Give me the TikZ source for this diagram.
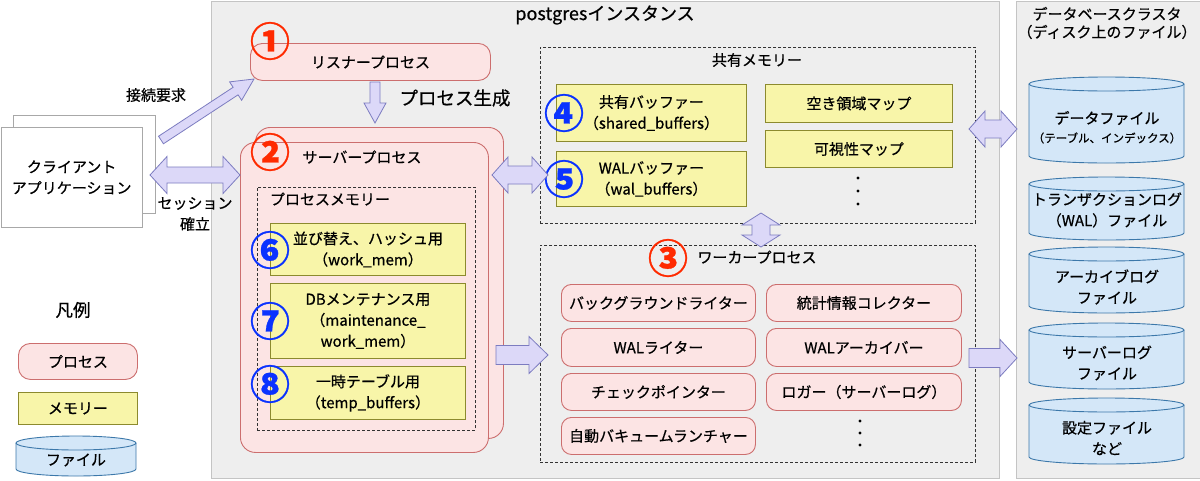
\documentclass[tikz,border=0pt]{standalone}
\usepackage{fontspec}
\setmainfont{Noto Sans CJK JP}[FakeBold=0.6]
\usetikzlibrary{calc}
\definecolor{procfill}{HTML}{FCE4E4}
\definecolor{procdraw}{HTML}{CC6E6E}
\definecolor{memfill}{HTML}{F8F5A9}
\definecolor{memdraw}{HTML}{8C8A2E}
\definecolor{filefill}{HTML}{D4E7F8}
\definecolor{filedraw}{HTML}{3C78AA}
\definecolor{arrfill}{HTML}{DCD8F8}
\definecolor{arrdraw}{HTML}{7C7CC0}
\definecolor{instfill}{HTML}{EEEEEE}
\definecolor{instdraw}{HTML}{C4C4C4}
\definecolor{clientdraw}{HTML}{A8A8A8}
\definecolor{numred}{HTML}{FF2A00}
\definecolor{numblue}{HTML}{0A32FF}
\newcommand\nf{\fontsize{15}{21}\selectfont}
\newcommand\rbox[7]{\node[#1, anchor=north west, inner sep=0pt, minimum width={(#5-#3)*1pt}, minimum height={(#6-#4)*1pt}, align=center, font=\nf] (#2) at (#3,#4) {#7};}
\newcommand\SArrow[5]{%
 \path[blockarrow] let \p1=(#1), \p2=(#2), \n1={atan2(\y2-\y1,\x2-\x1)} in
 ($(\p1)+(\n1+90:#3)$) -- ($(\p2)+(\n1+180:#5)+(\n1+90:#3)$) -- ($(\p2)+(\n1+180:#5)+(\n1+90:#4)$) -- (\p2) -- ($(\p2)+(\n1+180:#5)+(\n1-90:#4)$) -- ($(\p2)+(\n1+180:#5)+(\n1-90:#3)$) -- ($(\p1)+(\n1-90:#3)$) -- cycle;}
\newcommand\DArrow[5]{%
 \path[blockarrow] let \p1=(#1), \p2=(#2), \n1={atan2(\y2-\y1,\x2-\x1)} in
 (\p1) -- ($(\p1)+(\n1:#5)+(\n1+90:#4)$) -- ($(\p1)+(\n1:#5)+(\n1+90:#3)$) -- ($(\p2)+(\n1+180:#5)+(\n1+90:#3)$) -- ($(\p2)+(\n1+180:#5)+(\n1+90:#4)$) -- (\p2) -- ($(\p2)+(\n1+180:#5)+(\n1-90:#4)$) -- ($(\p2)+(\n1+180:#5)+(\n1-90:#3)$) -- ($(\p1)+(\n1:#5)+(\n1-90:#3)$) -- ($(\p1)+(\n1:#5)+(\n1-90:#4)$) -- cycle;}
% cylinder: x1,y1,x2,y2
\newcommand\Cyl[4]{%
 \path[fill=filefill] (#1,#2+7) -- (#1,#4-7) arc[start angle=180,end angle=0,x radius={(#3-#1)/2},y radius=7] -- (#3,#2+7) -- cycle;
 \draw[filedraw, line width=0.9pt] (#1,#2+7) -- (#1,#4-7) arc[start angle=180,end angle=0,x radius={(#3-#1)/2},y radius=7] -- (#3,#2+7);
 \draw[filedraw, fill=filefill, line width=0.9pt] ({(#1+#3)/2},#2+7) ellipse [x radius={(#3-#1)/2}, y radius=7];}
\begin{document}
\begin{tikzpicture}[x=1pt,y=-1pt,
  proc/.style={draw=procdraw, fill=procfill, rounded corners=10pt, line width=0.9pt},
  mem/.style={draw=memdraw, fill=memfill, line width=0.9pt},
  dashbox/.style={draw=black!80, dash pattern=on 3pt off 2pt, line width=0.7pt},
  panel/.style={draw=instdraw, fill=instfill, line width=0.8pt},
  client/.style={draw=clientdraw, fill=white, line width=0.8pt},
  blockarrow/.style={draw=arrdraw, fill=arrfill, line width=0.8pt, line join=miter},
  lbl/.style={font=\nf, align=center, inner sep=0pt},
  small/.style={font=\fontsize{11.5}{14}\selectfont, align=center, inner sep=0pt},
  numr/.style={font=\fontsize{40}{40}\selectfont\bfseries, text=numred, inner sep=0pt},
  numb/.style={font=\fontsize{40}{40}\selectfont\bfseries, text=numblue, inner sep=0pt},
  dotmark/.style={fill=black, draw=none}]
\useasboundingbox (0,0) rectangle (1200,480);
\fill[white] (0,0) rectangle (1200,480);

% panels
\rbox{panel}{inst}{210.5}{0.5}{999}{478}{}
\node[font=\fontsize{18}{20}\selectfont, inner sep=0pt] (insttitle) at (605,15) {postgresインスタンス};
\rbox{panel}{cluster}{1016}{0.5}{1199.5}{478}{}
\node[font=\fontsize{15}{18}\selectfont, align=center, inner sep=0pt] (clustertitle) at (1107,23) {データベースクラスタ\\（ディスク上のファイル）};

% client
\rbox{client}{clientback}{13}{115}{155}{213}{}
\rbox{client}{client}{0.5}{127}{142}{227}{クライアント\\アプリケーション}
\node[lbl] (reqlbl) at (156,95) {接続要求};
\node[lbl] (seslbl) at (195,214) {セッション\\確立};

% listener
\rbox{proc, rounded corners=12pt}{listener}{250}{43}{490}{80}{リスナープロセス}
\node[numr] (n1) at (270,41) {①};
\node[font=\fontsize{18.5}{20}\selectfont, inner sep=0pt] (spawnlbl) at (455,98) {プロセス生成};

% server process
\rbox{proc, rounded corners=15pt}{serverback}{255}{127}{503}{438}{}
\rbox{proc, rounded corners=15pt}{server}{240}{142}{488}{452}{}
\node[numr] (n2) at (270,152) {②};
\node[lbl] (serverlbl) at (362,157) {サーバープロセス};
\rbox{dashbox}{procmem}{257}{187}{475}{430}{}
\node[lbl] (procmemlbl) at (330,199) {プロセスメモリー};
\rbox{mem}{workmem}{270}{223}{465}{275}{並び替え、ハッシュ用\\（work\_mem）}
\rbox{mem}{maintmem}{270}{283}{465}{358}{DBメンテナンス用\\（maintenance\_\\work\_mem）}
\rbox{mem}{tempbuf}{270}{366}{465}{419}{一時テーブル用\\（temp\_buffers）}
\node[numb] (n6) at (270,250) {⑥};
\node[numb] (n7) at (270,321) {⑦};
\node[numb] (n8) at (270,384) {⑧};

% shared memory
\rbox{dashbox}{shmem}{540}{47}{975}{223}{}
\node[lbl] (shmemlbl) at (757,60) {共有メモリー};
\rbox{mem}{shbuf}{556}{84}{746}{141}{共有バッファー\\（shared\_buffers）}
\rbox{mem}{walbuf}{556}{151}{746}{206}{WALバッファー\\（wal\_buffers）}
\rbox{mem}{fsm}{765}{84}{952}{122}{空き領域マップ}
\rbox{mem}{vm}{765}{130}{952}{167}{可視性マップ}
\foreach \yy in {178,191,204} \fill[dotmark] (858,\yy) circle[radius=1.6];
\node[numb] (n4) at (564,113) {④};
\node[numb] (n5) at (564,179) {⑤};

% worker processes
\rbox{dashbox}{worker}{540}{245}{975}{462}{}
\node[numr] (n3) at (668,258) {③};
\node[lbl] (workerlbl) at (757,257) {ワーカープロセス};
\rbox{proc}{bgw}{561}{284}{755}{321}{バックグラウンドライター}
\rbox{proc}{walw}{561}{328}{755}{366}{WALライター}
\rbox{proc}{ckpt}{561}{373}{755}{410}{チェックポインター}
\rbox{proc}{avl}{561}{417}{755}{454}{自動バキュームランチャー}
\rbox{proc}{stats}{766}{284}{961}{321}{統計情報コレクター}
\rbox{proc}{arch}{766}{328}{961}{366}{WALアーカイバー}
\rbox{proc}{logger}{766}{373}{961}{410}{ロガー（サーバーログ）}
\foreach \yy in {421,433,445} \fill[dotmark] (860,\yy) circle[radius=1.6];

% cluster files
\Cyl{1029}{77}{1184}{163}
\node[lbl] (datafile) at (1107,118) {データファイル};
\node[small] (datafile2) at (1107,138) {（テーブル、インデックス）};
\Cyl{1029}{177}{1184}{240}
\node[lbl] (walfile) at (1107,210) {トランザクションログ\\（WAL）ファイル};
\Cyl{1029}{247}{1184}{313}
\node[lbl] (archfile) at (1107,287) {アーカイブログ\\ファイル};
\Cyl{1029}{323}{1184}{389}
\node[lbl] (logfile) at (1107,363) {サーバーログ\\ファイル};
\Cyl{1029}{398}{1184}{464}
\node[lbl] (conffile) at (1107,438) {設定ファイル\\など};

% legend
\node[font=\fontsize{17.5}{20}\selectfont, inner sep=0pt] (legend) at (73,310) {凡例};
\rbox{proc, rounded corners=12pt}{legproc}{18}{343}{137}{379}{プロセス}
\rbox{mem}{legmem}{18}{392}{137}{424}{メモリー}
\Cyl{16}{436}{136}{476}
\node[lbl] (legfile) at (76,460) {ファイル};

% connector coordinates
\coordinate (reqS) at (161,140);
\coordinate (reqE) at (254,79);
\coordinate (sesL) at (150,175);
\coordinate (sesR) at (240,175);
\coordinate (spawnS) at (375,82);
\coordinate (spawnE) at (375,123);
\coordinate (srvShL) at (492,175);
\coordinate (srvShR) at (548,175);
\coordinate (srvWkS) at (496,355);
\coordinate (srvWkE) at (548,355);
\coordinate (shWkT) at (761,213);
\coordinate (shWkB) at (761,247);
\coordinate (instClL) at (969,129);
\coordinate (instClR) at (1017,129);
\coordinate (wkClS) at (969,358);
\coordinate (wkClE) at (1017,358);

\SArrow{reqS}{reqE}{4.5pt}{11pt}{22pt}
\DArrow{sesL}{sesR}{8pt}{18.5pt}{17pt}
\SArrow{spawnS}{spawnE}{5pt}{11pt}{20pt}
\DArrow{srvShL}{srvShR}{9pt}{18pt}{16pt}
\SArrow{srvWkS}{srvWkE}{9.5pt}{18.5pt}{19pt}
\DArrow{shWkT}{shWkB}{9pt}{19pt}{12pt}
\DArrow{instClL}{instClR}{9pt}{18pt}{16pt}
\SArrow{wkClS}{wkClE}{9.5pt}{18.5pt}{17pt}
\end{tikzpicture}
\end{document}
